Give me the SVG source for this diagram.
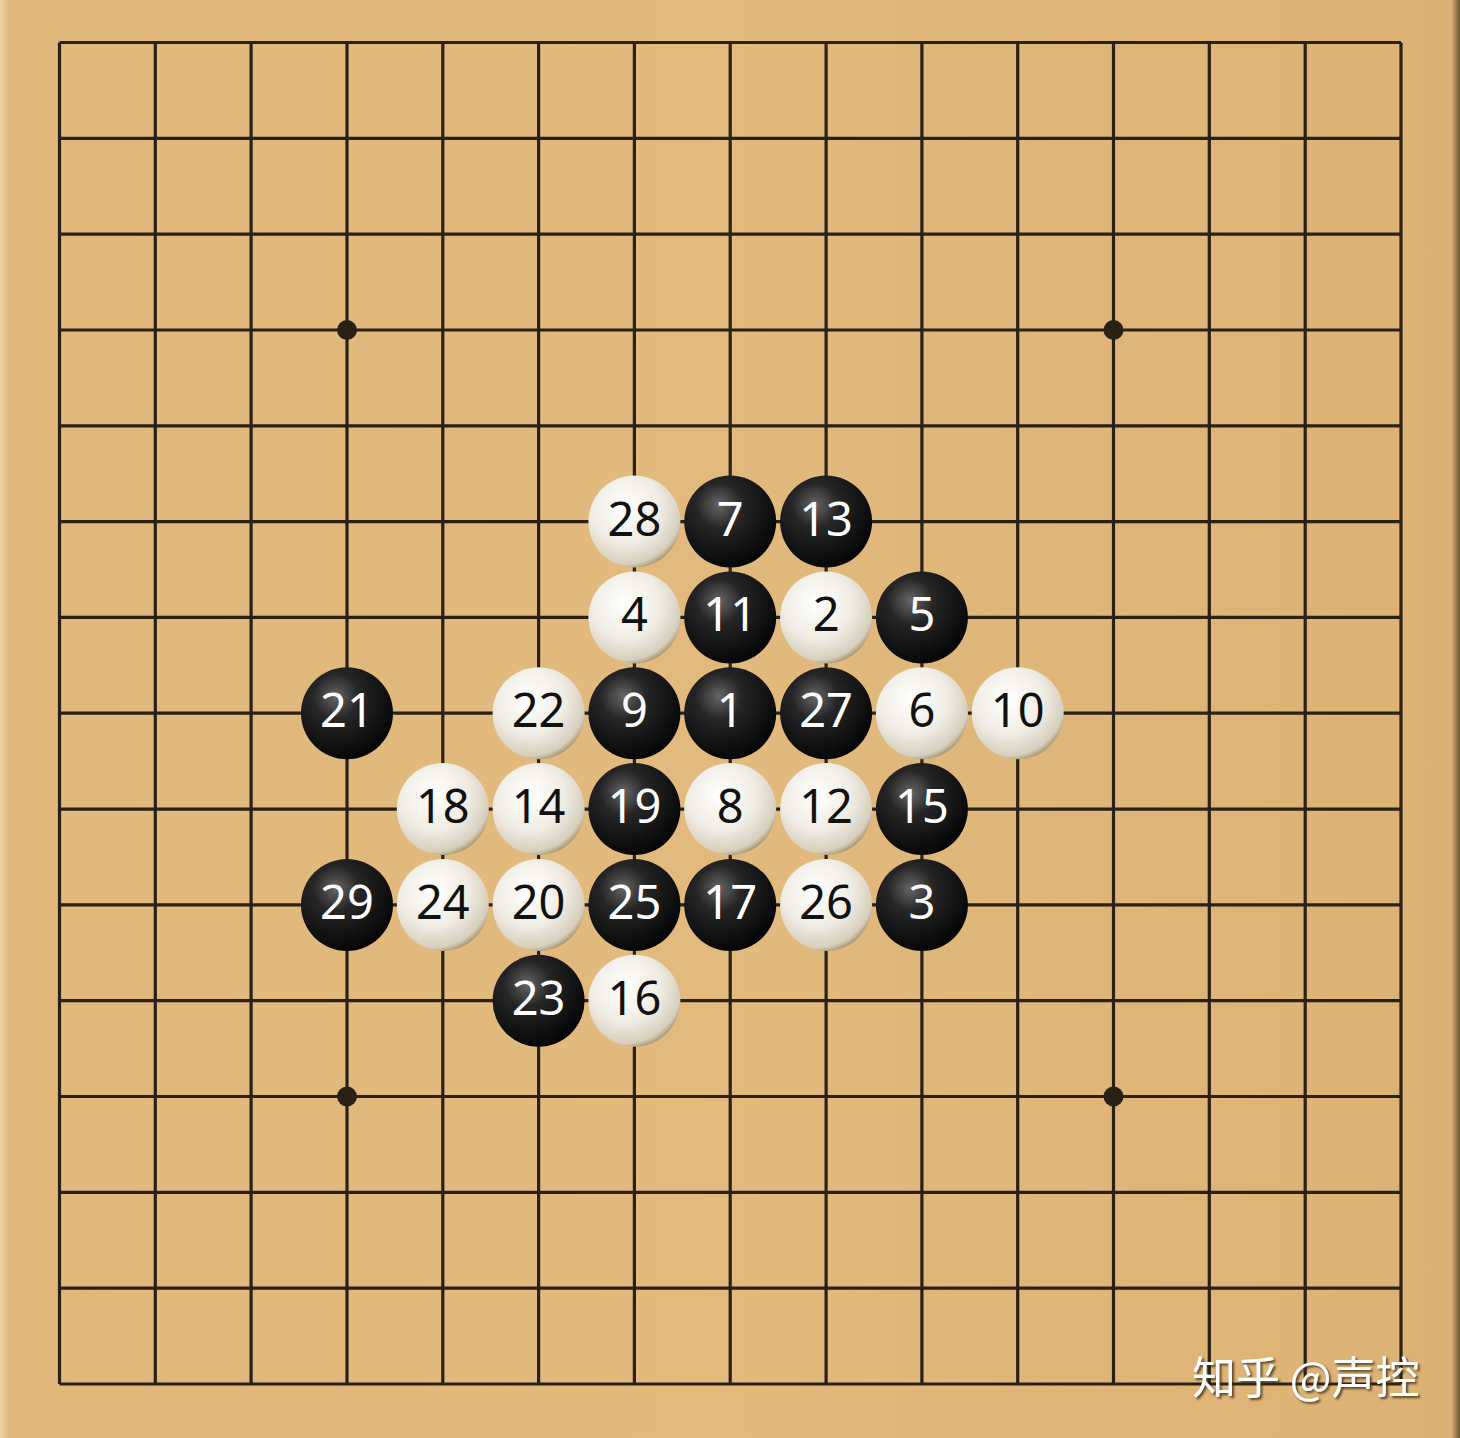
<svg xmlns="http://www.w3.org/2000/svg" width="1460" height="1438" viewBox="0 0 1460 1438">
<defs>
<linearGradient id="wood" x1="0" y1="0" x2="1" y2="0">
<stop offset="0" stop-color="#EFD3A2"/>
<stop offset="0.006" stop-color="#E1B87C"/>
<stop offset="0.5" stop-color="#E2BA7E"/>
<stop offset="0.994" stop-color="#DCB174"/>
<stop offset="1" stop-color="#6B5233"/>
</linearGradient>
<radialGradient id="bk" cx="0.38" cy="0.32" r="0.7">
<stop offset="0" stop-color="#666666"/>
<stop offset="0.35" stop-color="#262626"/>
<stop offset="1" stop-color="#050505"/>
</radialGradient>
<radialGradient id="wt" cx="0.4" cy="0.35" r="0.68">
<stop offset="0" stop-color="#ffffff"/>
<stop offset="0.55" stop-color="#f0ede4"/>
<stop offset="0.9" stop-color="#d6cfbd"/>
<stop offset="1" stop-color="#a8976f"/>
</radialGradient>
<filter id="sh" x="-10%" y="-10%" width="130%" height="130%">
<feDropShadow dx="2" dy="2" stdDeviation="1" flood-color="#3a2a10" flood-opacity="0.8"/>
</filter>
</defs>
<style>
.g{stroke:#2a2116;stroke-width:3.2;fill:none}
.b circle{fill:url(#bk)}
.w circle{fill:url(#wt)}
text.n{font-family:"Noto Sans","DejaVu Sans",sans-serif;font-size:47px;text-anchor:middle}
.b text{fill:#ffffff}
.w text{fill:#111111}
.wm{font-family:"Noto Sans CJK SC",sans-serif;font-size:44px;fill:#ffffff}
</style>
<rect x="0" y="0" width="1460" height="1438" fill="url(#wood)"/>
<g id="grid">
<path class="g" d="M59.5 42.5V1384M155.3 42.5V1384M251.1 42.5V1384M347 42.5V1384M442.8 42.5V1384M538.6 42.5V1384M634.4 42.5V1384M730.2 42.5V1384M826.1 42.5V1384M921.9 42.5V1384M1017.7 42.5V1384M1113.5 42.5V1384M1209.3 42.5V1384M1305.2 42.5V1384M1401 42.5V1384"/>
<path class="g" d="M59.5 42.5H1401M59.5 138.3H1401M59.5 234.1H1401M59.5 330H1401M59.5 425.8H1401M59.5 521.6H1401M59.5 617.4H1401M59.5 713.2H1401M59.5 809.1H1401M59.5 904.9H1401M59.5 1000.7H1401M59.5 1096.5H1401M59.5 1192.3H1401M59.5 1288.2H1401M59.5 1384H1401"/>
<circle cx="347" cy="330" r="10" fill="#2a2116"/>
<circle cx="1113.5" cy="330" r="10" fill="#2a2116"/>
<circle cx="347" cy="1096.5" r="10" fill="#2a2116"/>
<circle cx="1113.5" cy="1096.5" r="10" fill="#2a2116"/>
</g>
<g id="stones">
<g id="s28" class="w"><circle cx="634.4" cy="521.6" r="46"/><text class="n" x="634.4" y="535.6">28</text></g>
<g id="s7" class="b"><circle cx="730.2" cy="521.6" r="46"/><text class="n" x="730.2" y="535.6">7</text></g>
<g id="s13" class="b"><circle cx="826.1" cy="521.6" r="46"/><text class="n" x="826.1" y="535.6">13</text></g>
<g id="s4" class="w"><circle cx="634.4" cy="617.4" r="46"/><text class="n" x="634.4" y="631.4">4</text></g>
<g id="s11" class="b"><circle cx="730.2" cy="617.4" r="46"/><text class="n" x="730.2" y="631.4">11</text></g>
<g id="s2" class="w"><circle cx="826.1" cy="617.4" r="46"/><text class="n" x="826.1" y="631.4">2</text></g>
<g id="s5" class="b"><circle cx="921.9" cy="617.4" r="46"/><text class="n" x="921.9" y="631.4">5</text></g>
<g id="s21" class="b"><circle cx="347" cy="713.2" r="46"/><text class="n" x="347" y="727.2">21</text></g>
<g id="s22" class="w"><circle cx="538.6" cy="713.2" r="46"/><text class="n" x="538.6" y="727.2">22</text></g>
<g id="s9" class="b"><circle cx="634.4" cy="713.2" r="46"/><text class="n" x="634.4" y="727.2">9</text></g>
<g id="s1" class="b"><circle cx="730.2" cy="713.2" r="46"/><text class="n" x="730.2" y="727.2">1</text></g>
<g id="s27" class="b"><circle cx="826.1" cy="713.2" r="46"/><text class="n" x="826.1" y="727.2">27</text></g>
<g id="s6" class="w"><circle cx="921.9" cy="713.2" r="46"/><text class="n" x="921.9" y="727.2">6</text></g>
<g id="s10" class="w"><circle cx="1017.7" cy="713.2" r="46"/><text class="n" x="1017.7" y="727.2">10</text></g>
<g id="s18" class="w"><circle cx="442.8" cy="809.1" r="46"/><text class="n" x="442.8" y="823.1">18</text></g>
<g id="s14" class="w"><circle cx="538.6" cy="809.1" r="46"/><text class="n" x="538.6" y="823.1">14</text></g>
<g id="s19" class="b"><circle cx="634.4" cy="809.1" r="46"/><text class="n" x="634.4" y="823.1">19</text></g>
<g id="s8" class="w"><circle cx="730.2" cy="809.1" r="46"/><text class="n" x="730.2" y="823.1">8</text></g>
<g id="s12" class="w"><circle cx="826.1" cy="809.1" r="46"/><text class="n" x="826.1" y="823.1">12</text></g>
<g id="s15" class="b"><circle cx="921.9" cy="809.1" r="46"/><text class="n" x="921.9" y="823.1">15</text></g>
<g id="s29" class="b"><circle cx="347" cy="904.9" r="46"/><text class="n" x="347" y="918.9">29</text></g>
<g id="s24" class="w"><circle cx="442.8" cy="904.9" r="46"/><text class="n" x="442.8" y="918.9">24</text></g>
<g id="s20" class="w"><circle cx="538.6" cy="904.9" r="46"/><text class="n" x="538.6" y="918.9">20</text></g>
<g id="s25" class="b"><circle cx="634.4" cy="904.9" r="46"/><text class="n" x="634.4" y="918.9">25</text></g>
<g id="s17" class="b"><circle cx="730.2" cy="904.9" r="46"/><text class="n" x="730.2" y="918.9">17</text></g>
<g id="s26" class="w"><circle cx="826.1" cy="904.9" r="46"/><text class="n" x="826.1" y="918.9">26</text></g>
<g id="s3" class="b"><circle cx="921.9" cy="904.9" r="46"/><text class="n" x="921.9" y="918.9">3</text></g>
<g id="s23" class="b"><circle cx="538.6" cy="1000.7" r="46"/><text class="n" x="538.6" y="1014.7">23</text></g>
<g id="s16" class="w"><circle cx="634.4" cy="1000.7" r="46"/><text class="n" x="634.4" y="1014.7">16</text></g>
</g>
<text class="wm" x="1192" y="1394" filter="url(#sh)">知乎 @声控</text>
</svg>
